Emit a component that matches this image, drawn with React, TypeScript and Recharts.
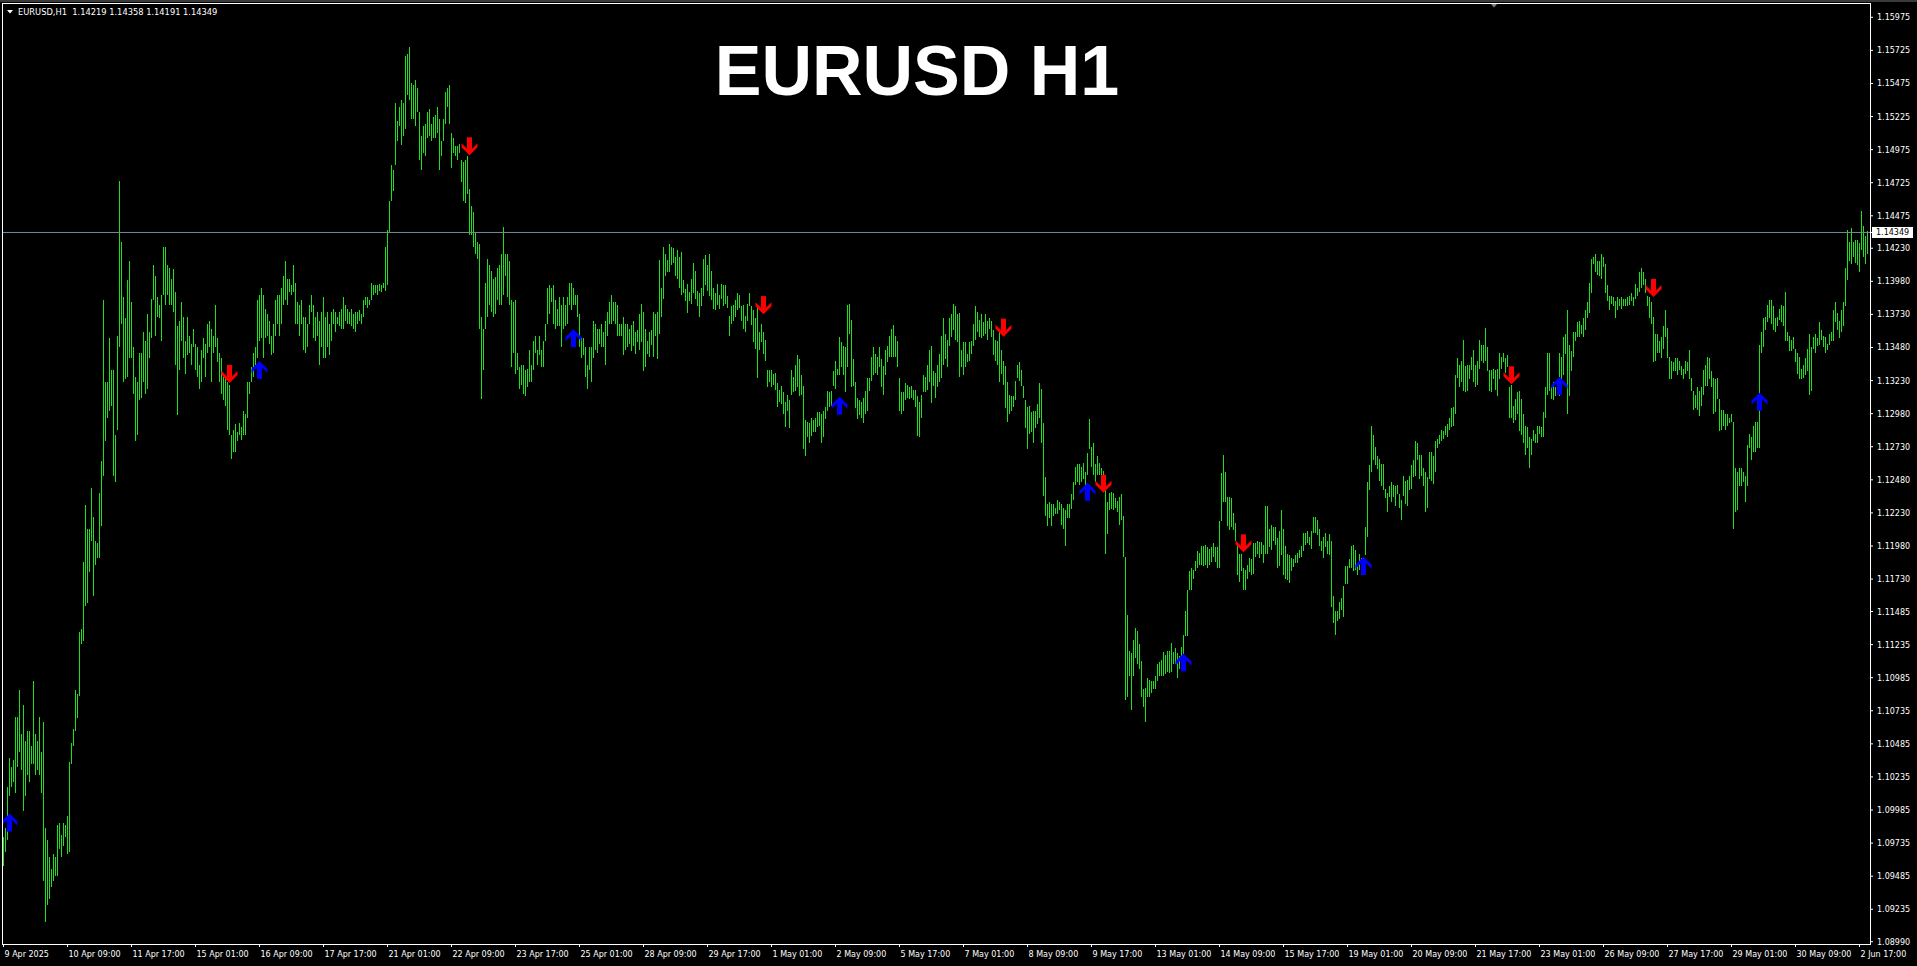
import React from 'react';
import { ComposedChart, Bar, Scatter, XAxis, YAxis, ReferenceLine } from 'recharts';

const W = 1917;
const H = 966;

const BASE = 1.09;
const PIP = 0.0001;

// H1 bars as [low, high] in pips above 1.0900, from 9 Apr 01:00 to 2 Jun 21:00
const rangePips: number[][] = [
  // 9 Apr 2025
  [56,78],[67,85],[76,116],[109,138],[116,131],[120,136],[111,169],[131,169],[142,189],[129,156],[98,178],[109,151],[125,158],[120,158],[133,147],[133,196],
  [125,156],[129,151],[125,169],[111,142],[45,165],[14,85],[27,76],[31,63],[40,54],[45,65],[49,63],[49,87],[69,89],[63,80],[71,89],[78,87],
  // 10 Apr 09:00
  [65,94],[67,135],[133,149],[147,160],[158,189],[168,186],[185,233],[224,235],[226,286],[253,329],[255,311],[278,311],[302,342],[260,320],[284,302],[289,300],
  [289,338],[313,362],[351,484],[377,422],[395,422],[400,455],[404,431],[351,431],[346,382],[386,457],[448,574],[466,528],[422,486],[424,470],[426,499],[440,513],
  // 11 Apr 17:00
  [440,482],[413,448],[377,426],[382,422],[408,444],[410,444],[422,460],[413,453],[417,473],[440,460],[455,485],[484,510],[457,502],[471,486],[470,480],[453,488],
  [488,524],[480,524],[488,510],[480,508],[480,500],[475,507],[435,490],[397,464],[431,468],[453,482],[440,471],[428,453],[442,471],[444,457],[435,451],[448,462],
  // 15 Apr 01:00
  [431,451],[426,448],[417,435],[422,446],[440,455],[426,451],[444,466],[448,468],[422,462],[444,457],[448,480],[437,455],[422,444],[413,440],[408,426],[404,426],
  [386,422],[382,420],[364,382],[369,386],[369,390],[377,384],[382,391],[378,388],[382,400],[382,398],[395,422],[413,422],[422,433],[426,444],[435,448],[440,484],
  // 16 Apr 09:00
  [453,488],[455,493],[440,488],[455,477],[457,473],[451,468],[442,457],[444,466],[457,484],[466,488],[457,488],[466,493],[480,502],[484,513],[480,500],[490,500],
  [488,495],[490,510],[466,497],[466,482],[457,480],[466,484],[446,471],[444,471],[448,466],[466,480],[475,488],[455,480],[453,471],[457,475],[435,468],[448,475],
  // 17 Apr 17:00
  [440,486],[440,471],[448,475],[442,466],[453,475],[466,477],[460,475],[466,471],[464,475],[462,477],[462,486],[468,480],[466,477],[466,475],[464,477],[462,473],
  [460,475],[466,475],[468,476],[466,473],[471,484],[480,486],[478,486],[480,484],[484,497],[488,495],[489,495],[488,495],[491,496],[490,495],[493,497],[491,524],
  // 21 Apr 01:00
  [495,537],[535,559],[559,586],[566,582],[586,633],[604,619],[615,630],[601,635],[608,633],[613,668],[639,670],[635,675],[621,648],[621,646],[615,650],[626,644],
  [590,626],[582,608],[595,615],[593,617],[606,626],[608,628],[604,617],[606,622],[606,624],[610,630],[582,621],[593,604],[604,621],[617,641],[630,644],[617,646],
  // 22 Apr 09:00
  [584,610],[595,606],[593,600],[590,600],[595,602],[573,590],[559,588],[557,590],[564,593],[533,568],[533,555],[524,550],[519,535],[515,528],[462,526],[409,471],
  [431,462],[462,497],[471,515],[480,510],[475,506],[471,500],[473,501],[484,508],[480,510],[480,519],[488,539],[502,519],[486,519],[480,513],[433,484],[444,482],
  // 23 Apr 17:00
  [428,484],[431,444],[417,433],[420,435],[413,435],[411,431],[418,432],[422,446],[422,435],[431,453],[444,457],[435,446],[442,457],[433,446],[433,453],[453,466],
  [466,493],[473,495],[482,493],[466,495],[462,484],[464,477],[464,486],[448,480],[462,486],[464,480],[466,486],[480,497],[476,497],[480,493],[480,488],[471,488],
  // 25 Apr 01:00
  [448,473],[440,455],[442,455],[426,448],[417,435],[431,448],[422,448],[440,468],[446,466],[444,462],[451,462],[448,466],[448,460],[435,468],[457,475],[466,482],
  [466,488],[468,482],[466,482],[457,480],[457,466],[457,466],[442,471],[446,466],[448,466],[451,462],[445,465],[449,468],[443,460],[452,461],[446,473],[452,481],
  // 28 Apr 09:00
  [430,475],[433,462],[443,453],[441,460],[450,461],[441,475],[457,473],[439,475],[458,514],[471,493],[485,524],[502,519],[505,514],[505,526],[510,524],[512,523],
  [502,516],[500,522],[493,516],[488,520],[489,499],[483,492],[474,496],[483,490],[481,500],[489,512],[485,506],[479,491],[471,489],[479,493],[487,515],[495,518],
  // 29 Apr 17:00
  [491,510],[487,519],[484,506],[477,493],[476,489],[480,496],[477,488],[485,496],[479,495],[481,495],[478,487],[457,472],[466,479],[468,480],[471,484],[476,489],
  [478,488],[468,479],[462,480],[460,472],[468,481],[479,489],[465,479],[452,476],[447,470],[425,479],[446,460],[452,466],[443,460],[438,454],[418,431],[422,431],
  // 1 May 01:00
  [418,431],[420,428],[416,429],[403,421],[407,416],[405,419],[398,414],[388,407],[400,412],[387,408],[412,431],[414,426],[415,435],[418,442],[411,439],[412,427],
  [371,419],[366,393],[380,392],[376,391],[381,395],[384,393],[384,395],[388,399],[389,399],[376,398],[380,400],[394,403],[400,415],[403,414],[404,415],[419,430],
  // 2 May 09:00
  [417,438],[427,432],[427,456],[433,452],[427,449],[414,448],[433,480],[458,481],[418,469],[419,439],[402,422],[394,410],[397,408],[395,407],[391,410],[398,415],
  [400,425],[415,425],[423,441],[427,448],[429,443],[427,441],[433,448],[418,439],[412,434],[427,446],[437,449],[441,457],[441,462],[441,465],[441,457],[433,453],
  // 5 May 17:00
  [400,425],[398,414],[400,414],[408,421],[410,420],[409,418],[410,419],[408,416],[403,416],[381,411],[380,407],[395,412],[414,427],[414,426],[416,435],[422,446],
  [406,449],[419,430],[410,429],[418,435],[422,443],[425,457],[435,470],[439,458],[433,454],[449,470],[456,473],[461,481],[454,479],[452,473],[426,474],[433,446],
  // 7 May 01:00
  [427,452],[433,452],[437,443],[438,452],[443,453],[449,466],[454,479],[460,475],[456,469],[455,473],[457,467],[458,473],[454,468],[462,470],[456,468],[442,461],
  [438,454],[435,453],[422,460],[428,446],[420,438],[402,434],[392,422],[398,412],[400,411],[403,411],[408,423],[425,435],[423,437],[419,431],[410,419],[387,408],
  // 8 May 09:00
  [371,403],[383,404],[384,399],[376,400],[387,400],[390,405],[395,421],[376,417],[336,391],[321,350],[313,330],[319,331],[313,330],[321,330],[322,327],[322,333],
  [325,331],[314,330],[311,327],[298,325],[319,330],[319,330],[326,337],[333,346],[344,358],[346,360],[344,360],[346,358],[349,361],[344,354],[352,368],[371,394],
  // 9 May 17:00
  [358,373],[352,376],[346,360],[352,366],[352,361],[346,357],[340,355],[292,340],[307,331],[325,338],[326,339],[325,338],[327,334],[324,332],[314,335],[318,337],
  [290,321],[182,290],[184,246],[200,219],[174,217],[200,227],[213,236],[209,234],[205,224],[184,211],[176,190],[165,191],[184,198],[184,197],[187,196],[190,196],
  // 13 May 01:00
  [190,200],[196,209],[200,210],[200,212],[200,218],[201,216],[203,219],[202,219],[203,225],[209,218],[209,221],[198,217],[205,215],[211,222],[215,231],[230,249],
  [230,265],[265,279],[265,281],[273,280],[279,287],[281,294],[284,293],[284,298],[283,298],[284,299],[281,297],[284,296],[286,297],[290,300],[286,297],[281,297],
  // 14 May 09:00
  [281,317],[317,353],[331,367],[331,354],[313,335],[310,335],[312,334],[310,323],[302,315],[276,299],[271,292],[279,292],[265,281],[265,280],[273,284],[278,289],
  [276,288],[277,300],[290,300],[292,302],[289,301],[292,301],[285,299],[292,328],[292,328],[297,311],[295,314],[302,312],[299,312],[281,304],[283,309],[291,325],
  // 15 May 17:00
  [276,311],[273,298],[272,292],[270,291],[279,289],[282,288],[285,291],[285,293],[289,295],[290,298],[294,308],[299,308],[300,309],[299,305],[296,309],[308,320],
  [308,320],[306,318],[298,311],[294,302],[289,305],[297,308],[292,302],[291,307],[252,302],[240,260],[231,249],[241,249],[243,256],[250,259],[244,268],[269,283],
  // 19 May 01:00
  [269,283],[281,288],[281,298],[279,299],[280,295],[276,283],[280,292],[276,289],[276,290],[291,312],[305,346],[340,359],[354,389],[363,382],[359,373],[356,366],
  [347,364],[343,360],[340,360],[334,341],[324,338],[335,343],[331,346],[335,344],[328,343],[337,344],[327,337],[318,333],[336,351],[330,347],[328,348],[340,351],
  // 20 May 09:00
  [341,359],[350,363],[351,377],[363,376],[349,367],[351,367],[343,357],[324,354],[327,350],[349,369],[347,369],[345,366],[354,377],[372,379],[375,382],[377,386],
  [379,385],[382,389],[380,390],[386,395],[388,402],[389,403],[398,427],[425,440],[418,435],[422,438],[415,454],[414,434],[415,435],[424,435],[431,441],[422,446],
  // 21 May 17:00
  [418,435],[420,438],[432,454],[438,450],[436,450],[438,463],[430,448],[415,431],[414,431],[424,432],[416,431],[411,432],[424,444],[432,441],[437,444],[429,440],
  [433,442],[395,418],[395,420],[391,404],[393,409],[398,414],[385,415],[382,409],[376,398],[367,389],[372,388],[357,380],[367,379],[377,386],[376,383],[376,389],
  // 23 May 01:00
  [383,389],[380,388],[380,399],[395,418],[412,444],[415,444],[409,418],[408,422],[411,418],[412,420],[411,444],[418,441],[427,456],[443,458],[398,476],[411,450],
  [430,445],[441,460],[453,460],[456,467],[456,468],[458,465],[456,470],[461,476],[470,482],[474,497],[489,515],[511,516],[505,519],[503,513],[502,513],[500,519],
  // 26 May 09:00
  [509,516],[489,511],[483,495],[476,487],[481,487],[479,486],[470,483],[476,486],[479,485],[477,486],[479,485],[479,485],[479,486],[480,487],[483,489],[479,486],
  [485,496],[487,493],[490,505],[493,508],[495,505],[489,500],[479,487],[470,486],[466,482],[437,471],[438,458],[444,458],[444,453],[440,456],[447,464],[456,476],
  // 27 May 17:00
  [440,463],[424,441],[424,438],[430,437],[430,440],[427,440],[431,438],[427,434],[424,432],[428,438],[430,437],[424,446],[415,425],[401,415],[402,412],[401,418],
  [396,415],[404,418],[412,431],[419,435],[419,441],[424,440],[418,430],[398,425],[399,424],[409,425],[385,409],[386,401],[389,401],[386,398],[389,398],[391,395],
  // 29 May 01:00
  [392,398],[311,392],[324,357],[325,354],[343,357],[343,357],[346,354],[331,351],[343,374],[372,383],[363,380],[369,389],[369,392],[372,392],[372,450],[444,460],
  [448,470],[461,471],[467,480],[470,484],[466,484],[461,479],[460,470],[464,471],[469,477],[467,480],[464,479],[453,490],[453,460],[445,457],[445,454],[447,456],
  // 30 May 09:00
  [437,447],[428,444],[424,441],[424,432],[425,435],[427,440],[430,447],[412,458],[415,448],[447,456],[444,458],[449,455],[450,467],[454,461],[448,457],[444,456],
  [446,451],[450,458],[453,460],[453,476],[467,482],[461,474],[455,468],[460,476],[464,482],[479,508],[499,537],[513,528],[511,538],[516,528],[512,529],[510,529],
  // 2 Jun 17:00
  [505,527],[522,551],[516,540],[511,532],[519,536],
];

const timeLabels = [
  '9 Apr 2025', '10 Apr 09:00', '11 Apr 17:00', '15 Apr 01:00', '16 Apr 09:00', '17 Apr 17:00',
  '21 Apr 01:00', '22 Apr 09:00', '23 Apr 17:00', '25 Apr 01:00', '28 Apr 09:00', '29 Apr 17:00',
  '1 May 01:00', '2 May 09:00', '5 May 17:00', '7 May 01:00', '8 May 09:00', '9 May 17:00',
  '13 May 01:00', '14 May 09:00', '15 May 17:00', '19 May 01:00', '20 May 09:00', '21 May 17:00',
  '23 May 01:00', '26 May 09:00', '27 May 17:00', '29 May 01:00', '30 May 09:00', '2 Jun 17:00',
];
const BARS_PER_LABEL = 32;

const priceLabels = [
  1.15975, 1.15725, 1.15475, 1.15225, 1.14975, 1.14725, 1.14475, 1.1423, 1.1398, 1.1373,
  1.1348, 1.1323, 1.1298, 1.1273, 1.1248, 1.1223, 1.1198, 1.1173, 1.11485, 1.11235,
  1.10985, 1.10735, 1.10485, 1.10235, 1.09985, 1.09735, 1.09485, 1.09235, 1.0899,
];

const lastBar = { open: 1.14219, high: 1.14358, low: 1.14191, close: 1.14349 };

// signal arrows: [bar index, pips above 1.0900]
const buySignals = [[3, 89], [128, 431], [285, 455], [418, 404], [542, 339], [590, 210], [680, 283], [778, 419], [878, 407]];
const sellSignals = [[113, 428], [233, 600], [380, 480], [500, 463], [550, 345], [620, 300], [754, 427], [825, 493]];

const Y_MIN = 1.089726;
const Y_MAX = 1.16083;

const bars = rangePips.map(([lo, hi], i) => ({ i, range: [BASE + lo * PIP, BASE + hi * PIP] }));
const buys = buySignals.map(([i, p]) => ({ i, price: BASE + p * PIP }));
const sells = sellSignals.map(([i, p]) => ({ i, price: BASE + p * PIP }));
const xTicks = timeLabels.map((_, k) => k * BARS_PER_LABEL);

const FONT = "'DejaVu Sans', Tahoma, sans-serif";
const BAR_COLOR = '#1ee01e';

// one pixel wide high-low line, snapped to the pixel grid
const HiLoBar = (props: any) => {
  const { x, y, width, height } = props;
  if (x == null || y == null) return null;
  const px = Math.floor(x + width / 2);
  const top = Math.round(y);
  const h = Math.max(1, Math.round(y + height) - top);
  return <rect x={px} y={top} width={1} height={h} fill={BAR_COLOR} shapeRendering="crispEdges" />;
};

const UpArrow = (props: any) => {
  const { cx, cy } = props;
  if (cx == null || cy == null) return null;
  return (
    <g fill="#0000ff">
      <rect x={cx - 2.5} y={cy - 6} width={5} height={15} />
      <polygon points={`${cx - 8},${cy - 1} ${cx},${cy - 9} ${cx + 8},${cy - 1} ${cx + 8},${cy + 3} ${cx},${cy - 5} ${cx - 8},${cy + 3}`} />
    </g>
  );
};

const DownArrow = (props: any) => {
  const { cx, cy } = props;
  if (cx == null || cy == null) return null;
  return (
    <g fill="#ff0000">
      <rect x={cx - 2.5} y={cy - 9} width={5} height={15} />
      <polygon points={`${cx - 8},${cy + 1} ${cx},${cy + 9} ${cx + 8},${cy + 1} ${cx + 8},${cy - 3} ${cx},${cy + 5} ${cx - 8},${cy - 3}`} />
    </g>
  );
};

const TimeTick = (props: any) => {
  const { x, y, payload } = props;
  const k = Math.round(payload.value / BARS_PER_LABEL);
  return (
    <text x={x + 1} y={y + 8} fill="#fff" fontSize={8} fontFamily={FONT} textAnchor="start">
      {timeLabels[k]}
    </text>
  );
};

const PriceTick = (props: any) => {
  const { x, y, payload } = props;
  const v = payload.value;
  if (v === lastBar.close) {
    return (
      <g>
        <rect x={x - 5} y={y - 5.5} width={41} height={11} fill="#fff" />
        <text x={x - 1} y={y + 3} fill="#000" fontSize={8} fontFamily={FONT}>{v.toFixed(5)}</text>
      </g>
    );
  }
  return (
    <text x={x} y={y + 3} fill="#fff" fontSize={8} fontFamily={FONT}>{v.toFixed(5)}</text>
  );
};

export default function App() {
  const header = `EURUSD,H1  ${lastBar.open.toFixed(5)} ${lastBar.high.toFixed(5)} ${lastBar.low.toFixed(5)} ${lastBar.close.toFixed(5)}`;
  return (
    <div style={{ position: 'relative', width: W, height: H, background: '#000', overflow: 'hidden' }}>
      <style>{'body{margin:0;background:#000;}'}</style>
      <ComposedChart width={W} height={H} data={bars} margin={{ top: 3, right: 0, bottom: 0, left: 3 }}>
        <XAxis
          dataKey="i"
          type="number"
          domain={[-0.25, bars.length + 0.25]}
          allowDataOverflow
          ticks={xTicks}
          interval={0}
          height={22}
          tickSize={3}
          tickMargin={2}
          tickLine={{ stroke: '#fff' }}
          axisLine={false}
          tick={<TimeTick />}
        />
        <YAxis
          orientation="right"
          type="number"
          width={47}
          domain={[Y_MIN, Y_MAX]}
          allowDataOverflow
          ticks={[...priceLabels, lastBar.close]}
          interval={0}
          tickSize={3}
          tickMargin={4}
          tickLine={{ stroke: '#fff' }}
          axisLine={false}
          tick={<PriceTick />}
        />
        <ReferenceLine y={lastBar.close} stroke="#778899" strokeWidth={1} />
        <Bar dataKey="range" barSize={1} fill={BAR_COLOR} shape={HiLoBar} isAnimationActive={false} />
        <Scatter data={buys} dataKey="price" shape={UpArrow} isAnimationActive={false} />
        <Scatter data={sells} dataKey="price" shape={DownArrow} isAnimationActive={false} />
      </ComposedChart>
      <svg width={W} height={H} style={{ position: 'absolute', left: 0, top: 0, pointerEvents: 'none' }}>
        <rect x={0} y={0} width={W} height={2} fill="#3a3a3a" />
        <line x1={2.5} y1={3} x2={2.5} y2={945} stroke="#fff" />
        <line x1={2} y1={3.5} x2={1871} y2={3.5} stroke="#fff" />
        <line x1={1870.5} y1={3} x2={1870.5} y2={945} stroke="#fff" />
        <line x1={2} y1={944.5} x2={1871} y2={944.5} stroke="#fff" />
        <polygon points="7,10 13,10 10,13.5" fill="#fff" />
        <polygon points="1491,4 1497,4 1494,7.5" fill="#808080" />
        <text x={18} y={15} fill="#fff" fontSize={8.3} fontFamily={FONT} style={{ whiteSpace: 'pre' }}>
          {header}
        </text>
        <text x={917} y={95} fill="#fff" fontSize={70} fontWeight="bold" fontFamily="'Liberation Sans', Arial, sans-serif" textAnchor="middle">
          EURUSD H1
        </text>
      </svg>
    </div>
  );
}
